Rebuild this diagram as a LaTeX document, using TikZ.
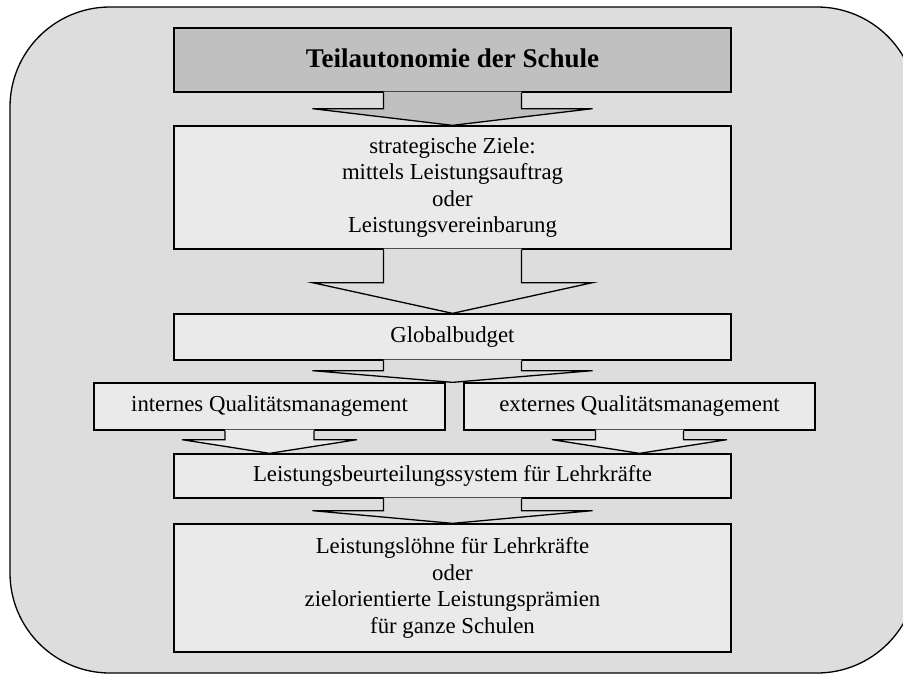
\documentclass[tikz,border=0pt]{standalone}
\usepackage{fontspec}
\setmainfont{Liberation Serif}
\usetikzlibrary{calc}

\definecolor{framefill}{HTML}{DDDDDD}
\definecolor{boxfill}{HTML}{EAEAEA}
\definecolor{headfill}{HTML}{C0C0C0}

% #1 source box, #2 target box, #3 half shaft width, #4 half wing width,
% #5 shaft length, #6 fill colour
\newcommand{\flowarrow}[6]{%
  \fill[#6] ($(#1.south)+(-#3,-1)$) -- ($(#1.south)+(-#3,#5)$)
    -- ($(#1.south)+(-#4,#5)$) -- (#1.south |- #2.north)
    -- ($(#1.south)+(#4,#5)$) -- ($(#1.south)+(#3,#5)$)
    -- ($(#1.south)+(#3,-1)$) -- cycle;
  \draw[outline] ($(#1.south)+(-#3,0)$) -- ($(#1.south)+(-#3,#5)$)
    -- ($(#1.south)+(-#4,#5)$) -- (#1.south |- #2.north)
    -- ($(#1.south)+(#4,#5)$) -- ($(#1.south)+(#3,#5)$)
    -- ($(#1.south)+(#3,0)$);
}

\begin{document}
\begin{tikzpicture}[x=1pt,y=-1pt,
  outline/.style={draw=black,line width=1.3pt,line join=miter},
  box/.style={outline,fill=boxfill,rectangle,inner sep=0pt,
    align=center,font=\fontsize{22.8}{26.5}\selectfont}]
\useasboundingbox (0,0) rectangle (903,675);
\begin{scope}
\clip (0,0) rectangle (903,675);
\draw[outline,fill=framefill,rounded corners=100pt] (10,7) rectangle (917,673);
\end{scope}

\node[box,fill=headfill,minimum width=557pt,minimum height=64pt,
  font=\fontsize{27}{30}\selectfont\bfseries] (head) at (452.5,60)
  {\raisebox{4pt}{Teilautonomie der Schule}};
\node[box,minimum width=557pt,minimum height=123pt] (goals) at (452.5,187.5)
  {strategische Ziele:\\mittels Leistungsauftrag\\oder\\Leistungsvereinbarung};
\node[box,minimum width=557pt,minimum height=46pt] (budget) at (452.5,337)
  {Globalbudget};
\node[box,minimum width=351pt,minimum height=47pt] (intern) at (269.5,406.5)
  {internes Qualitätsmanagement};
\node[box,minimum width=351pt,minimum height=47pt] (extern) at (639.5,406.5)
  {externes Qualitätsmanagement};
\node[box,minimum width=557pt,minimum height=44pt] (rating) at (452.5,476)
  {Leistungsbeurteilungssystem für Lehrkräfte};
\node[box,minimum width=557pt,minimum height=128pt] (pay) at (452.5,588)
  {Leistungslöhne für Lehrkräfte\\oder\\zielorientierte Leistungsprämien\\für ganze Schulen};

% block arrows leading from each box to the next
\flowarrow{head}{goals}{69}{140}{16}{headfill}
\flowarrow{goals}{budget}{69}{140}{33}{framefill}
\flowarrow{budget}{intern}{69}{140}{10}{framefill}
\flowarrow{intern}{rating}{44.5}{87.5}{9}{boxfill}
\flowarrow{extern}{rating}{44}{87.5}{9}{boxfill}
\flowarrow{rating}{pay}{69}{140}{12}{framefill}
\end{tikzpicture}
\end{document}
